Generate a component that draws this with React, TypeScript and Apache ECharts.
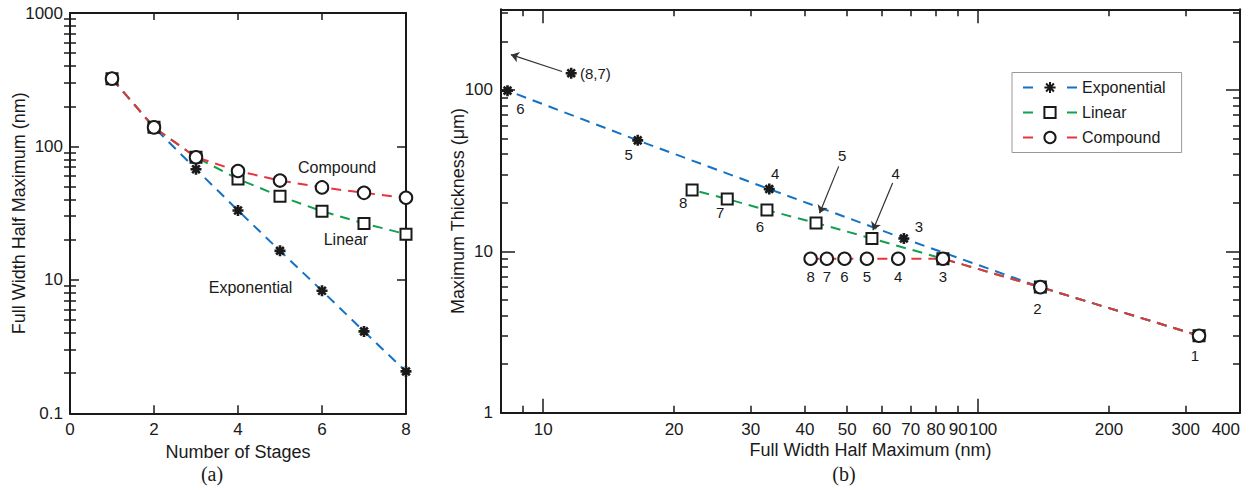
import React, { useEffect, useRef } from 'react';
import * as echarts from 'echarts';

// ---------- data ----------
const stages = [1, 2, 3, 4, 5, 6, 7, 8];
// (a) FWHM (nm) versus number of stages
const fwhmExponential = [322, 139, 67.5, 33.1, 16.5, 8.28, 4.11, 2.06];
const fwhmLinear = [322, 139, 83, 57, 42.4, 32.7, 26.5, 22];
const fwhmCompound = [322, 139, 83, 65.5, 55.5, 49.3, 44.9, 41.2];
// (b) maximum thickness (µm) versus FWHM; exponential stages 7 and 8 lie off the chart
const thickExponential = [3.0, 6.0, 12.0, 24.3, 48.7, 99];
const thickLinear = [3, 6, 9, 12, 15, 18, 21.1, 24];
const thickCompound = [3, 6, 9, 9, 9, 9, 9, 9];

// tick values / labels
const leftXTicks = [0, 2, 4, 6, 8];
const leftYMajor = [1, 10, 100, 1000];
const leftYMajorLabels = ['0.1', '10', '100', '1000'];
const leftYMinor = [2, 3, 4, 5, 6, 7, 8, 9, 20, 30, 40, 50, 60, 70, 80, 90, 200, 300, 400, 500, 600, 700, 800, 900];
const rightXLabels = [10, 20, 30, 40, 50, 60, 70, 80, 90, 100, 200, 300, 400];
const rightXMajor = [10, 100];
const rightXMinor = [9, 20, 30, 40, 50, 60, 70, 80, 90, 200, 300];
const rightYMajor = [1, 10, 100];
const rightYMinor = [2, 3, 4, 5, 6, 7, 8, 9, 20, 30, 40, 50, 60, 70, 80, 90, 200, 300];

// annotation texts and their anchor points (data coordinates)
const leftNotes = [
  { text: 'Compound', at: [6.36, 69.8] },
  { text: 'Linear', at: [6.57, 20.0] },
  { text: 'Exponential', at: [4.3, 8.8] },
];
const offChartStar = { text: '(8,7)', at: [11.6, 127] };
const arrowNotes = [
  { text: '5', at: [48.7, 39.3], from: [47.8, 33.6], to: [43.2, 17.2] },
  { text: '4', at: [64.6, 30.2], from: [63.6, 26.5], to: [57.3, 13.5] },
];
const offChartArrow = { from: [11.05, 130], to: [8.43, 165.5] };

// label offsets (layout) per stage number in chart (b)
const expLabelOffsets: Record<number, number[]> = { 6: [13, 18], 5: [-9, 14], 4: [6, -16], 3: [15, -12] };
const linLabelOffsets: Record<number, number[]> = { 8: [-9, 13], 7: [-7, 14], 6: [-7, 16] };
const cmpLabelOffsets: Record<number, number[]> = {
  8: [0, 18], 7: [0, 18], 6: [0, 18], 5: [0, 18], 4: [0, 18], 3: [0, 18], 2: [-3, 21], 1: [-4, 20],
};

// ---------- styles ----------
const FONT = '"Liberation Sans", Arial, Helvetica, sans-serif';
const INK = '#1a1a1a';
const BLUE = '#1372c4';
const GREEN = '#13a04e';
const RED = '#e8343f';
const STAR = 'path://M5,0L5,10M0,5L10,5M1.5,1.5L8.5,8.5M1.5,8.5L8.5,1.5';
const DASH = [10, 7];

function seriesStyle(name: string, color: string, kind: 'star' | 'square' | 'circle') {
  const symbol = kind === 'star' ? STAR : kind === 'square' ? 'rect' : 'circle';
  const size = kind === 'star' ? 11 : kind === 'square' ? 11 : 12.5;
  return {
    type: 'line',
    name,
    symbol,
    symbolSize: size,
    showSymbol: true,
    showAllSymbol: true,
    lineStyle: { color, width: 2, type: DASH },
    itemStyle: {
      color: kind === 'star' ? INK : '#ffffff',
      borderColor: INK,
      borderWidth: kind === 'star' ? 2.6 : 2,
      opacity: 1,
    },
    emphasis: { disabled: true },
    label: { show: false },
  };
}

function labelled(xs: number[], ys: number[], offsets: Record<number, number[]>) {
  return ys.map((y, i) => {
    const st = stages[i];
    const off = offsets[st];
    if (!off) return [xs[i], y];
    return {
      value: [xs[i], y],
      label: {
        show: true,
        formatter: String(st),
        position: 'inside',
        offset: off,
        fontSize: 15,
        color: INK,
        fontFamily: FONT,
      },
    };
  });
}

const axisLine = { show: true, onZero: false, lineStyle: { color: INK, width: 2 } };
const tickStyle = { color: INK, width: 1.5 };
const labelStyle = { fontSize: 17, color: INK, fontFamily: FONT };
const nameStyle = { fontSize: 18, color: INK, fontFamily: FONT };

function logAxis(extra: any) {
  return {
    type: 'log',
    logBase: 10,
    splitLine: { show: false },
    minorTick: { show: false },
    minorSplitLine: { show: false },
    ...extra,
  };
}

export default function App() {
  const ref = useRef<HTMLDivElement>(null);

  useEffect(() => {
    document.body.style.margin = '0';
    if (!ref.current) return;
    const chart = echarts.init(ref.current, null, { renderer: 'svg' });

    const xAxis: any[] = [
      // (a) bottom
      {
        gridIndex: 0, type: 'value', min: 0, max: 8, interval: 2, position: 'bottom',
        axisLine, splitLine: { show: false },
        axisTick: { show: true, inside: true, length: 8, lineStyle: tickStyle, customValues: leftXTicks },
        axisLabel: { ...labelStyle, margin: 8, customValues: leftXTicks },
        name: 'Number of Stages', nameLocation: 'middle', nameGap: 30, nameTextStyle: nameStyle,
        nameMoveOverlap: false,
      },
      // (a) top
      {
        gridIndex: 0, type: 'value', min: 0, max: 8, interval: 2, position: 'top',
        axisLine, splitLine: { show: false },
        axisTick: { show: true, inside: true, length: 7, lineStyle: tickStyle, customValues: leftXTicks },
        axisLabel: { show: false },
      },
      // (b) bottom major
      logAxis({
        gridIndex: 1, min: 8, max: 400, position: 'bottom', axisLine,
        axisTick: { show: true, inside: true, length: 14, lineStyle: tickStyle, customValues: rightXMajor },
        axisLabel: {
          ...labelStyle, margin: 8, customValues: rightXLabels, alignMaxLabel: 'right',
          formatter: (v: number) => (Math.round(v) === 100 ? '{h|100}' : String(Math.round(v))),
          rich: { h: { ...labelStyle, padding: [0, 0, 0, 10] } },
        },
        name: 'Full Width Half Maximum (nm)', nameLocation: 'middle', nameGap: 28, nameTextStyle: nameStyle,
        nameMoveOverlap: false,
      }),
      // (b) bottom minor
      logAxis({
        gridIndex: 1, min: 8, max: 400, position: 'bottom', axisLine: { show: false },
        axisTick: { show: true, inside: true, length: 7, lineStyle: tickStyle, customValues: rightXMinor },
        axisLabel: { show: false },
      }),
      // (b) top major
      logAxis({
        gridIndex: 1, min: 8, max: 400, position: 'top', axisLine,
        axisTick: { show: true, inside: true, length: 14, lineStyle: tickStyle, customValues: rightXMajor },
        axisLabel: { show: false },
      }),
      // (b) top minor
      logAxis({
        gridIndex: 1, min: 8, max: 400, position: 'top', axisLine: { show: false },
        axisTick: { show: true, inside: true, length: 7, lineStyle: tickStyle, customValues: rightXMinor },
        axisLabel: { show: false },
      }),
    ];

    const yAxis: any[] = [
      // (a) left major
      logAxis({
        gridIndex: 0, min: 1, max: 1000, position: 'left', axisLine,
        axisTick: { show: true, inside: true, length: 9, lineStyle: tickStyle, customValues: leftYMajor },
        axisLabel: {
          ...labelStyle, margin: 7, customValues: leftYMajor,
          formatter: (v: number) => leftYMajorLabels[leftYMajor.indexOf(Math.round(v))] ?? String(v),
        },
        name: 'Full Width Half Maximum (nm)', nameLocation: 'middle', nameGap: 42, nameTextStyle: nameStyle,
        nameMoveOverlap: false,
      }),
      // (a) left minor
      logAxis({
        gridIndex: 0, min: 1, max: 1000, position: 'left', axisLine: { show: false },
        axisTick: { show: true, inside: true, length: 6, lineStyle: tickStyle, customValues: leftYMinor },
        axisLabel: { show: false },
      }),
      // (a) right major
      logAxis({
        gridIndex: 0, min: 1, max: 1000, position: 'right', axisLine,
        axisTick: { show: true, inside: true, length: 9, lineStyle: tickStyle, customValues: leftYMajor },
        axisLabel: { show: false },
      }),
      // (a) right minor
      logAxis({
        gridIndex: 0, min: 1, max: 1000, position: 'right', axisLine: { show: false },
        axisTick: { show: true, inside: true, length: 6, lineStyle: tickStyle, customValues: leftYMinor },
        axisLabel: { show: false },
      }),
      // (b) left major
      logAxis({
        gridIndex: 1, min: 1, max: 316, position: 'left', axisLine,
        axisTick: { show: true, inside: true, length: 14, lineStyle: tickStyle, customValues: rightYMajor },
        axisLabel: { ...labelStyle, margin: 8, customValues: rightYMajor },
        name: 'Maximum Thickness (μm)', nameLocation: 'middle', nameGap: 34, nameTextStyle: nameStyle,
        nameMoveOverlap: false,
      }),
      // (b) left minor
      logAxis({
        gridIndex: 1, min: 1, max: 316, position: 'left', axisLine: { show: false },
        axisTick: { show: true, inside: true, length: 7, lineStyle: tickStyle, customValues: rightYMinor },
        axisLabel: { show: false },
      }),
      // (b) right major
      logAxis({
        gridIndex: 1, min: 1, max: 316, position: 'right', axisLine,
        axisTick: { show: true, inside: true, length: 14, lineStyle: tickStyle, customValues: rightYMajor },
        axisLabel: { show: false },
      }),
      // (b) right minor
      logAxis({
        gridIndex: 1, min: 1, max: 316, position: 'right', axisLine: { show: false },
        axisTick: { show: true, inside: true, length: 7, lineStyle: tickStyle, customValues: rightYMinor },
        axisLabel: { show: false },
      }),
    ];

    const series: any[] = [
      // (a)
      { ...seriesStyle('Exponential', BLUE, 'star'), xAxisIndex: 0, yAxisIndex: 0, data: stages.map((s, i) => [s, fwhmExponential[i]]) },
      { ...seriesStyle('Linear', GREEN, 'square'), xAxisIndex: 0, yAxisIndex: 0, data: stages.map((s, i) => [s, fwhmLinear[i]]) },
      { ...seriesStyle('Compound', RED, 'circle'), xAxisIndex: 0, yAxisIndex: 0, data: stages.map((s, i) => [s, fwhmCompound[i]]) },
      {
        type: 'scatter', name: 'notesA', xAxisIndex: 0, yAxisIndex: 0, symbol: 'circle', symbolSize: 1,
        itemStyle: { color: 'rgba(0,0,0,0)', opacity: 1 }, silent: true,
        label: { show: true, position: 'inside', fontSize: 16, color: INK, fontFamily: FONT, opacity: 1, formatter: (p: any) => p.data.name },
        data: leftNotes.map((n) => ({ name: n.text, value: n.at })),
      },
      // (b)
      { ...seriesStyle('Exponential', BLUE, 'star'), xAxisIndex: 2, yAxisIndex: 4, data: labelled(fwhmExponential, thickExponential, expLabelOffsets) },
      { ...seriesStyle('Linear', GREEN, 'square'), xAxisIndex: 2, yAxisIndex: 4, data: labelled(fwhmLinear, thickLinear, linLabelOffsets) },
      { ...seriesStyle('Compound', RED, 'circle'), xAxisIndex: 2, yAxisIndex: 4, data: labelled(fwhmCompound, thickCompound, cmpLabelOffsets) },
      {
        type: 'scatter', name: 'notesB', xAxisIndex: 2, yAxisIndex: 4, silent: true, z: 5,
        itemStyle: { opacity: 1 },
        data: [
          {
            value: offChartStar.at, symbol: STAR, symbolSize: 11,
            itemStyle: { color: INK, borderColor: INK, borderWidth: 2.6, opacity: 1 },
            label: { show: true, formatter: offChartStar.text, position: 'right', distance: 2, fontSize: 15, color: INK, fontFamily: FONT },
          },
          ...arrowNotes.map((a) => ({
            value: a.at, symbol: 'circle', symbolSize: 1, itemStyle: { color: 'rgba(0,0,0,0)', opacity: 1 },
            label: { show: true, formatter: a.text, position: 'inside', fontSize: 15, color: INK, fontFamily: FONT },
          })),
        ],
        markLine: {
          silent: true,
          symbol: ['none', 'arrow'],
          symbolSize: 8,
          label: { show: false },
          lineStyle: { color: '#333', width: 1.2, type: 'solid', opacity: 1 },
          emphasis: { disabled: true },
          data: [
            ...arrowNotes.map((a) => [{ coord: a.from }, { coord: a.to }]),
            [{ coord: offChartArrow.from }, { coord: offChartArrow.to }],
          ],
        },
      },
    ];

    chart.setOption({
      animation: false,
      backgroundColor: '#ffffff',
      textStyle: { fontFamily: FONT },
      grid: [
        { left: 70, top: 13, width: 336, height: 400.3, outerBoundsMode: 'none', containLabel: false },
        { left: 501, top: 9.3, width: 739, height: 403.4, outerBoundsMode: 'none', containLabel: false },
      ],
      legend: {
        show: true,
        orient: 'vertical',
        left: 1012,
        top: 72.5,
        itemWidth: 54,
        itemHeight: 14,
        itemGap: 9,
        padding: [7, 16, 7, 10],
        borderColor: '#999',
        borderWidth: 1,
        borderRadius: 0,
        backgroundColor: '#ffffff',
        selectedMode: false,
        lineStyle: { type: [10, 34] },
        textStyle: { fontSize: 16, color: INK, fontFamily: FONT },
        data: ['Exponential', 'Linear', 'Compound'],
      },
      xAxis,
      yAxis,
      series,
      graphic: [
        { type: 'text', x: 212, y: 474, style: { text: '(a)', fontSize: 20, fontFamily: '"Liberation Serif", "DejaVu Serif", serif', fill: INK, align: 'center', verticalAlign: 'middle' } },
        { type: 'text', x: 844, y: 474, style: { text: '(b)', fontSize: 20, fontFamily: '"Liberation Serif", "DejaVu Serif", serif', fill: INK, align: 'center', verticalAlign: 'middle' } },
      ],
    });

    return () => chart.dispose();
  }, []);

  return <div ref={ref} style={{ width: 1256, height: 490 }} />;
}
